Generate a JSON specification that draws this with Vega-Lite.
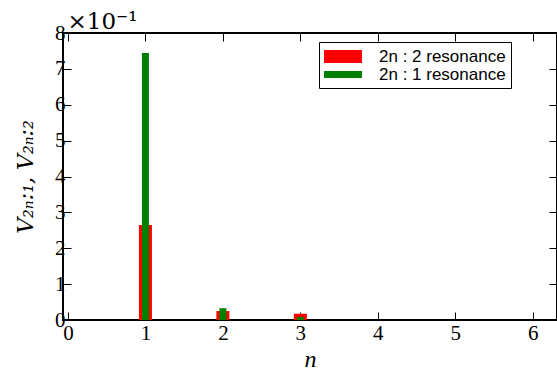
{
  "$schema": "https://vega.github.io/schema/vega-lite/v6.json",
  "width": 494,
  "height": 287,
  "autosize": "none",
  "padding": {"left": 63, "top": 33, "right": 0, "bottom": 64},
  "background": "white",
  "config": {
    "view": {"stroke": "black", "strokeWidth": 2},
    "axis": {"grid": false, "domain": false, "tickColor": "black", "tickWidth": 1, "tickSize": -8, "labelColor": "black", "titleColor": "black", "zindex": 1}
  },
  "datasets": {
    "bars": [
      {"n": 1, "V": 0.265, "series": "2n : 2 resonance"},
      {"n": 2, "V": 0.025, "series": "2n : 2 resonance"},
      {"n": 3, "V": 0.0175, "series": "2n : 2 resonance"},
      {"n": 1, "V": 0.744, "series": "2n : 1 resonance"},
      {"n": 2, "V": 0.033, "series": "2n : 1 resonance"},
      {"n": 3, "V": 0.0085, "series": "2n : 1 resonance"}
    ]
  },
  "data": {"name": "bars"},
  "layer": [
    {
      "transform": [{"filter": "datum.series == '2n : 2 resonance'"}],
      "mark": {"type": "bar", "orient": "vertical", "size": 13},
      "encoding": {
        "x": {"field": "n", "type": "quantitative", "scale": {"domain": [0, 6.25], "nice": false, "zero": false},
              "axis": {"orient": "bottom", "values": [0, 1, 2, 3, 4, 5, 6], "labelFont": "Liberation Serif", "labelFontSize": 21, "labelPadding": 10, "title": "n", "titleFont": "Liberation Serif", "titleFontStyle": "italic", "titleFontWeight": "normal", "titleFontSize": 24, "titlePadding": 4}},
        "y": {"field": "V", "type": "quantitative", "stack": null, "scale": {"domain": [0, 0.8], "nice": false},
              "axis": {"orient": "left", "values": [0, 0.1, 0.2, 0.3, 0.4, 0.5, 0.6, 0.7, 0.8], "labelExpr": "round(datum.value*10)", "labelFont": "Liberation Serif", "labelFontSize": 21, "labelPadding": 6, "title": "V₂ₙ:₁, V₂ₙ:₂", "titleFont": "DejaVu Serif", "titleFontStyle": "italic", "titleFontWeight": "normal", "titleFontSize": 22, "titlePadding": 17}},
        "color": {"field": "series", "type": "nominal", "scale": {"domain": ["2n : 2 resonance", "2n : 1 resonance"], "range": ["#ff0000", "#008000"]}}
      }
    },
    {
      "transform": [{"filter": "datum.series == '2n : 1 resonance'"}],
      "mark": {"type": "bar", "orient": "vertical", "size": 7},
      "encoding": {
        "x": {"field": "n", "type": "quantitative", "axis": null},
        "y": {"field": "V", "type": "quantitative", "stack": null, "axis": null},
        "color": {"field": "series", "type": "nominal"}
      }
    },
    {
      "transform": [{"filter": "false"}],
      "mark": {"type": "point", "filled": true, "opacity": 1, "size": 361},
      "encoding": {
        "x": {"field": "n", "type": "quantitative", "axis": {"orient": "top", "values": [0, 1, 2, 3, 4, 5, 6], "labels": false, "title": "×10⁻¹", "titleFont": "DejaVu Serif", "titleFontSize": 23, "titleFontWeight": "normal", "titleAnchor": "start", "titleAlign": "left", "titleBaseline": "alphabetic", "titleX": 4, "titleY": -5}},
        "y": {"field": "V", "type": "quantitative", "axis": {"orient": "right", "values": [0, 0.1, 0.2, 0.3, 0.4, 0.5, 0.6, 0.7, 0.8], "labels": false, "title": null}},
        "color": {"field": "series", "type": "nominal", "scale": {"domain": ["2n : 2 resonance", "2n : 1 resonance"], "range": ["#ff0000", "#008000"]},
                  "legend": {"title": null, "orient": "none", "legendX": 256, "legendY": 9, "strokeColor": "black", "fillColor": "white", "padding": 5, "cornerRadius": 0, "symbolSize": 361, "symbolOpacity": 1, "symbolStrokeWidth": 0, "labelFont": "Liberation Sans", "labelFontSize": 17, "labelColor": "black", "labelOffset": 36, "rowPadding": 0}},
        "shape": {"field": "series", "type": "nominal", "scale": {"domain": ["2n : 2 resonance", "2n : 1 resonance"], "range": ["M-1,-0.684H3V0.684H-1Z", "M-1,-0.368H3V0.368H-1Z"]}}
      }
    }
  ],
  "resolve": {"axis": {"x": "independent", "y": "independent"}}
}
